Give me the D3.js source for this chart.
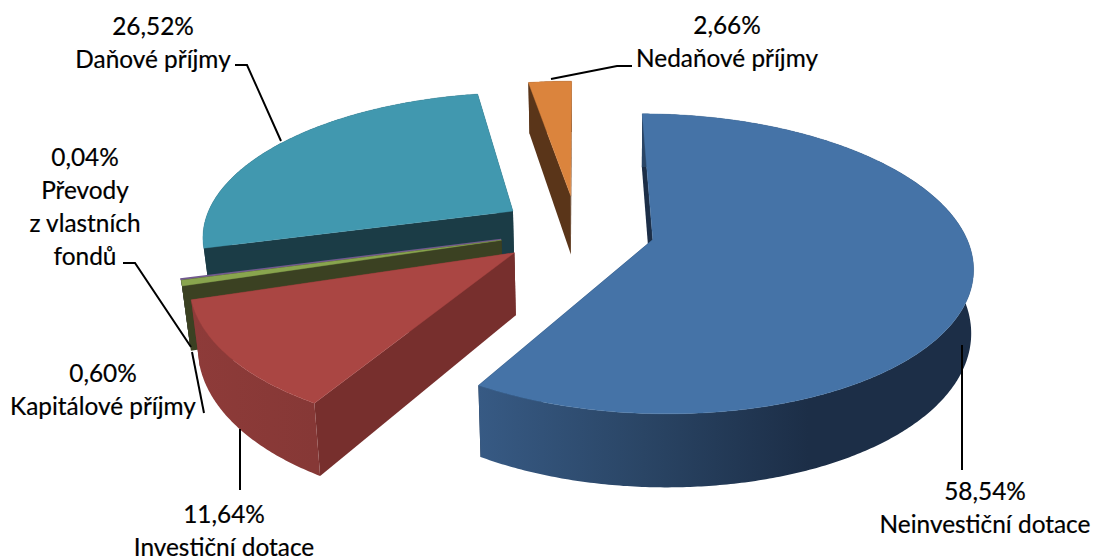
<!DOCTYPE html>
<html><head><meta charset="utf-8"><script src="https://cdn.jsdelivr.net/npm/d3@7"></script>
<style>html,body{margin:0;background:#fff}svg{display:block}text{font-family:Lato,"Open Sans",sans-serif;font-size:24.4px;fill:#000;stroke:#000;stroke-width:.2;text-anchor:middle}</style></head>
<body><svg id="c" width="1093" height="558"></svg>
<script>
const categories=["Neinvestiční dotace","Investiční dotace","Kapitálové příjmy","Převody z vlastních fondů","Daňové příjmy","Nedaňové příjmy"];
const values=[58.54,11.64,0.60,0.04,26.52,2.66];
const valueLabels=["58,54%","11,64%","0,60%","0,04%","26,52%","2,66%"];
const topColors=["#4573a7","#aa4643","#89a54e","#71588f","#4198af","#db843d"];
const wallColors=["#1c2e47","#772f2d","#3b4122","#2f2540","#1b3c46","#5a3519"];
const outerStops=[["#375a84","#2a4565","#1c2e47","#1c2e47"],["#8e3b39","#863836"],["#4b5b2a","#4b5b2a"],["#2f2540","#2f2540"],["#1b3c46","#1b3c46"],["#5a3519","#5a3519"]];
const labelLines=[["Neinvestiční dotace"],["Investiční dotace"],["Kapitálové příjmy"],["Převody","z vlastních","fondů"],["Daňové příjmy"],["Nedaňové příjmy"]];
const labelAnchors=[[985,500],[224,523],[103,382],[85,166],[153,35],[727,34]];
const leaders=[[[962,345],[962,470]],[[240,429],[240,490]],[[204,413],[192,352]],[[123,263],[135,263],[191,347]],[[235,65],[247,65],[281,141]],[[551,79],[617,66],[632,66]]];

const explode=0.25,persp=0.16,depth=61,convergeLeft=0.022,convergeRight=0.006;
const sx=d3.scaleLinear().domain([0,1]).range([577,577+311]);
const sy=d3.scaleLinear().domain([0,1]).range([230,230+143]);
function project(X,Y,Z){const w=1-persp*Y;
  const x0=sx(X/w),xc=sx(0),c=x0<xc?convergeLeft:convergeRight;
  return [xc+(x0-xc)*(1-c*Z),sy(Y/w)+depth*Z/w];}
const arcs=d3.pie().sort(null).value(d=>d)(values);
const svg=d3.select("#c");
const defs=svg.append("defs");
const line=d3.line();
const order=[4,5,0,3,2,1];
order.forEach(i=>{
  const a=arcs[i],mid=(a.startAngle+a.endAngle)/2;
  const ox=explode*Math.sin(mid),oy=-explode*Math.cos(mid);
  const P=(t,r,z)=>project(ox+r*Math.sin(t),oy-r*Math.cos(t),z);
  const n=Math.max(4,Math.ceil((a.endAngle-a.startAngle)/0.01));
  const ts=d3.range(n+1).map(k=>a.startAngle+(a.endAngle-a.startAngle)*k/n);
  const g=svg.append("g");
  const radial=t=>[P(t,0,0),P(t,1,0),P(t,1,1),P(t,0,1)];
  [a.endAngle,a.startAngle].forEach(t=>g.append("path").attr("d",line(radial(t))+"Z").attr("fill",wallColors[i]));
  const top=ts.map(t=>P(t,1,0)),bot=ts.map(t=>P(t,1,1)).reverse();
  const xs=top.map(p=>p[0]);
  const grad=defs.append("linearGradient").attr("id","g"+i).attr("gradientUnits","userSpaceOnUse")
    .attr("x1",d3.min(xs)).attr("x2",d3.max(xs)).attr("y1",0).attr("y2",0);
  const stops=outerStops[i];
  stops.forEach((c,k)=>grad.append("stop").attr("offset",k/(stops.length-1)).attr("stop-color",c));
  g.append("path").attr("d",line(top.concat(bot))+"Z").attr("fill",`url(#g${i})`);
  g.append("path").attr("d",line([P(a.startAngle,0,0)].concat(top))+"Z").attr("fill",topColors[i])
    .attr("stroke",topColors[i]).attr("stroke-width",values[i]<0.1?1.6:0.4);
});
leaders.forEach(p=>svg.append("path").attr("d",line(p)).attr("fill","none").attr("stroke","#000").attr("stroke-width",2));
labelLines.forEach((ls,i)=>{
  const x=labelAnchors[i][0],y=labelAnchors[i][1];
  const t=svg.append("text");
  [valueLabels[i]].concat(ls).forEach((s,k)=>t.append("tspan").attr("x",x).attr("y",y+k*33).text(s));
});
</script></body></html>
